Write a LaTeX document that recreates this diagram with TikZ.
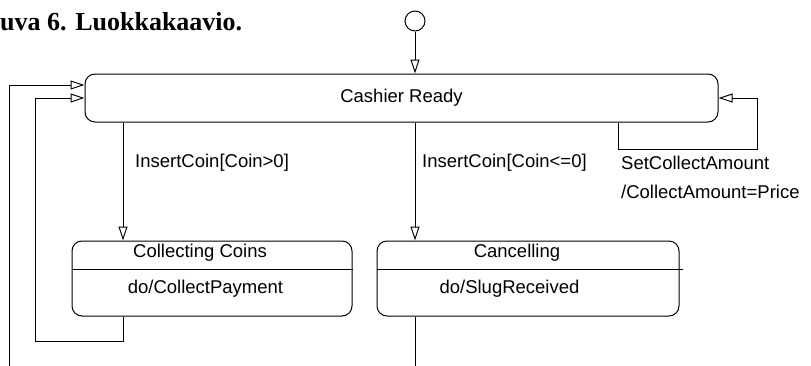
\documentclass[tikz,border=0pt]{standalone}
\usepackage{fontspec}
\setmainfont{Liberation Sans}
\newfontfamily\titlefont{Liberation Serif}
\usetikzlibrary{arrows.meta}
\tikzset{
    statebox/.style={draw, rounded corners=10pt, line width=1pt, inner sep=0pt},
    tr/.style={line width=1pt, -{Triangle[open, length=14pt, width=9pt]}},
    lbl/.style={font=\fontsize{18.5}{21}\selectfont, inner sep=0pt}
}
\begin{document}
\begin{tikzpicture}[x=1pt, y=-1pt]
        \useasboundingbox (0,0) rectangle (811,365);
        \node[anchor=base west, inner sep=0pt, font=\titlefont\bfseries\fontsize{26}{30}\selectfont] (title) at (0,30) {uva 6. Luokkakaavio.};

        % states
        \node[draw, circle, line width=1pt, minimum size=20pt, inner sep=0pt] (init) at (415,21) {};
        \node[statebox, minimum width=633pt, minimum height=48pt] (ready) at (401.5,98) {};
        \node[statebox, minimum width=280pt, minimum height=75pt] (coins) at (212,278.5) {};
        \node[statebox, minimum width=302pt, minimum height=75pt] (cancel) at (528,278.5) {};
        \coordinate (xa) at (123,0);
        \coordinate (xb) at (415,0);
        \coordinate (xs) at (618,0);
        \coordinate (div) at (0,269);
        \draw[line width=1pt] (coins.west |- div) -- (coins.east |- div);
        \draw[line width=1pt] (cancel.west |- div) -- ([xshift=3pt]cancel.east |- div);

        \node[lbl] (readytxt) at (ready) {Cashier Ready};
        \node[lbl] (coinstxt) at (200,253) {Collecting Coins};
        \node[lbl] (coinsdo) at (205.5,289) {do/CollectPayment};
        \node[lbl] (canceltxt) at (517,253) {Cancelling};
        \node[lbl] (canceldo) at (509.5,289) {do/SlugReceived};

        % transitions
        \draw[tr] (init) -- (init |- ready.north);
        \draw[tr] (ready.south -| xa) -- (coins.north -| xa);
        \draw[tr] (ready.south -| xb) -- (cancel.north -| xb);
        \draw[line width=1pt] (cancel.south -| xb) -- ++(0,55);
        \draw[tr] (ready.south -| xs) -- ++(0,27) -- ++(139,0) |- (ready.east);
        \draw[tr] (coins.south -| xa) -- ++(0,25) -| (35,0 |- ready.west) -- (ready.west);
        \draw[tr] (9,370) |- ([yshift=13pt]ready.west);

        \node[lbl, anchor=west] (g1) at (135,163) {InsertCoin[Coin>0]};
        \node[lbl, anchor=west] (g2) at (422,163) {InsertCoin[Coin<=0]};
        \node[lbl, anchor=west] (g3) at (621,163) {SetCollectAmount};
        \node[lbl, anchor=west] (g4) at (621,191.5) {/CollectAmount=Price};
    \end{tikzpicture}
\end{document}
